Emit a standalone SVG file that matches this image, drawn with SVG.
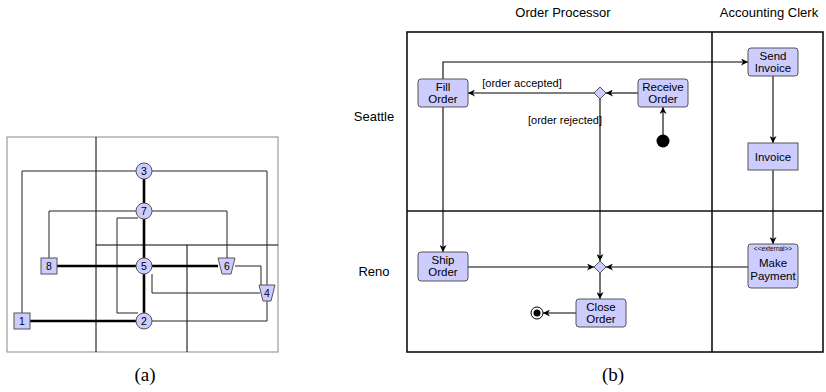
<svg xmlns="http://www.w3.org/2000/svg" width="826" height="392" viewBox="0 0 826 392">
<defs>
<style>
.t{font-family:"Liberation Sans",Arial,sans-serif;fill:#000}
.n{fill:#ccccff;stroke:#555;stroke-width:1}
.thin{stroke:#222;stroke-width:1;fill:none}
.thick{stroke:#000;stroke-width:2.6;fill:none}
.part{stroke:#000;stroke-width:1;fill:none}
.c{stroke:#000;stroke-width:1.1;fill:none;marker-end:url(#ah)}
.lane{stroke:#111;stroke-width:1.6;fill:none}
</style>
<marker id="ah" viewBox="0 0 10 10" refX="10" refY="5" markerWidth="7" markerHeight="7" markerUnits="userSpaceOnUse" orient="auto">
<path d="M0,0 L10,5 L0,10 L3,5 Z" fill="#000"/>
</marker>
</defs>
<rect width="826" height="392" fill="#fff"/>

<!-- (a) -->
<g id="a-frame">
<rect x="7" y="137" width="271" height="215" fill="none" stroke="#888" stroke-width="1"/>
<line class="part" x1="96" y1="137" x2="96" y2="352"/>
<line class="part" x1="96" y1="245" x2="278" y2="245"/>
<line class="part" x1="187" y1="245" x2="187" y2="352"/>
</g>
<g id="a-edges">
<polyline class="thin" points="136,171 22,171 22,313"/>
<polyline class="thin" points="152,171 267,171 267,285"/>
<polyline class="thin" points="136,211 49,211 49,258"/>
<polyline class="thin" points="152,211 227,211 227,258"/>
<polyline class="thin" points="138,218 117,218 117,313 138,313"/>
<polyline class="thin" points="235,266 261,266 261,285"/>
<polyline class="thin" points="152,274 152,293 260,293"/>
<polyline class="thin" points="152,321 267,321 267,301"/>
<line class="thick" x1="144" y1="179" x2="144" y2="203"/>
<line class="thick" x1="144" y1="219" x2="144" y2="258"/>
<line class="thick" x1="144" y1="274" x2="144" y2="313"/>
<line class="thick" x1="57" y1="266" x2="136" y2="266"/>
<line class="thick" x1="152" y1="266" x2="218" y2="266"/>
<line class="thick" x1="30" y1="321" x2="136" y2="321"/>
</g>
<g id="a3"><circle class="n" cx="144" cy="171" r="8"/><text class="t" x="144" y="174.5" font-size="10.5" text-anchor="middle">3</text></g>
<g id="a7"><circle class="n" cx="144" cy="211" r="8"/><text class="t" x="144" y="214.5" font-size="10.5" text-anchor="middle">7</text></g>
<g id="a5"><circle class="n" cx="144" cy="266" r="8"/><text class="t" x="144" y="269.5" font-size="10.5" text-anchor="middle">5</text></g>
<g id="a2"><circle class="n" cx="144" cy="321" r="8"/><text class="t" x="144" y="324.5" font-size="10.5" text-anchor="middle">2</text></g>
<g id="a8"><rect class="n" x="41" y="258" width="16" height="16"/><text class="t" x="49" y="269.5" font-size="10.5" text-anchor="middle">8</text></g>
<g id="a1"><rect class="n" x="14" y="313" width="16" height="16"/><text class="t" x="22" y="324.5" font-size="10.5" text-anchor="middle">1</text></g>
<g id="a6"><polygon class="n" points="218,258 235,258 231,274 222,274"/><text class="t" x="227" y="269.5" font-size="10.5" text-anchor="middle">6</text></g>
<g id="a4"><polygon class="n" points="259,285 275,285 271,301 263,301"/><text class="t" x="267" y="296.5" font-size="10.5" text-anchor="middle">4</text></g>
<text x="145" y="381" font-family="'Liberation Serif','Times New Roman',serif" font-size="19" text-anchor="middle">(a)</text>

<!-- (b) -->
<g id="b-lanes">
<rect class="lane" x="407" y="32" width="416" height="320"/>
<line class="lane" x1="712" y1="32" x2="712" y2="352"/>
<line class="lane" x1="407" y1="211" x2="823" y2="211"/>
<text class="t" x="563" y="17" font-size="13" text-anchor="middle">Order Processor</text>
<text class="t" x="769" y="17" font-size="13" text-anchor="middle">Accounting Clerk</text>
<text class="t" x="374" y="121" font-size="13" text-anchor="middle">Seattle</text>
<text class="t" x="374" y="276" font-size="13" text-anchor="middle">Reno</text>
</g>
<g id="b-connectors">
<line class="c" x1="663" y1="135" x2="663" y2="107"/>
<line class="c" x1="638" y1="93" x2="606" y2="93"/>
<line class="c" x1="594" y1="93" x2="468" y2="93"/>
<polyline class="c" points="443,79 443,62 748,62"/>
<line class="c" x1="443" y1="107" x2="443" y2="252"/>
<line class="c" x1="600" y1="99" x2="600" y2="261"/>
<line class="c" x1="468" y1="267" x2="594" y2="267"/>
<line class="c" x1="748" y1="267" x2="606" y2="267"/>
<line class="c" x1="600" y1="273" x2="600" y2="299"/>
<line class="c" x1="576" y1="313" x2="543" y2="313"/>
<line class="c" x1="773" y1="76" x2="773" y2="143"/>
<line class="c" x1="773" y1="170" x2="773" y2="244"/>
<text class="t" x="522" y="87" font-size="11" text-anchor="middle">[order accepted]</text>
<text class="t" x="565" y="124" font-size="11" text-anchor="middle">[order rejected]</text>
</g>
<g id="fill-order"><rect class="n" x="418" y="79" width="50" height="28" rx="3"/><text class="t" x="443" y="91" font-size="11.5" text-anchor="middle">Fill</text><text class="t" x="443" y="103" font-size="11.5" text-anchor="middle">Order</text></g>
<g id="receive-order"><rect class="n" x="638" y="79" width="50" height="28" rx="3"/><text class="t" x="663" y="91" font-size="11.5" text-anchor="middle">Receive</text><text class="t" x="663" y="103" font-size="11.5" text-anchor="middle">Order</text></g>
<g id="decision"><polygon class="n" points="600,87 606,93 600,99 594,93"/></g>
<g id="initial"><circle cx="663" cy="141" r="6.5" fill="#000"/></g>
<g id="send-invoice"><rect class="n" x="748" y="48" width="50" height="28" rx="3"/><text class="t" x="773" y="60" font-size="11.5" text-anchor="middle">Send</text><text class="t" x="773" y="72" font-size="11.5" text-anchor="middle">Invoice</text></g>
<g id="invoice"><rect class="n" x="748" y="143" width="50" height="27"/><text class="t" x="773" y="161" font-size="11.5" text-anchor="middle">Invoice</text></g>
<g id="make-payment"><rect class="n" x="748" y="244" width="50" height="44" rx="3"/><text class="t" x="773" y="251" font-size="6.5" text-anchor="middle">&lt;&lt;external&gt;&gt;</text><text class="t" x="773" y="267" font-size="11.5" text-anchor="middle">Make</text><text class="t" x="773" y="280" font-size="11.5" text-anchor="middle">Payment</text></g>
<g id="ship-order"><rect class="n" x="418" y="252" width="50" height="29" rx="3"/><text class="t" x="443" y="264" font-size="11.5" text-anchor="middle">Ship</text><text class="t" x="443" y="276" font-size="11.5" text-anchor="middle">Order</text></g>
<g id="merge"><polygon class="n" points="600,261 606,267 600,273 594,267"/></g>
<g id="close-order"><rect class="n" x="576" y="299" width="50" height="28" rx="3"/><text class="t" x="601" y="311" font-size="11.5" text-anchor="middle">Close</text><text class="t" x="601" y="323" font-size="11.5" text-anchor="middle">Order</text></g>
<g id="final"><circle cx="537" cy="313" r="6" fill="#fff" stroke="#000" stroke-width="1"/><circle cx="537" cy="313" r="3.5" fill="#000"/></g>
<text x="613" y="381" font-family="'Liberation Serif','Times New Roman',serif" font-size="19" text-anchor="middle">(b)</text>
</svg>
